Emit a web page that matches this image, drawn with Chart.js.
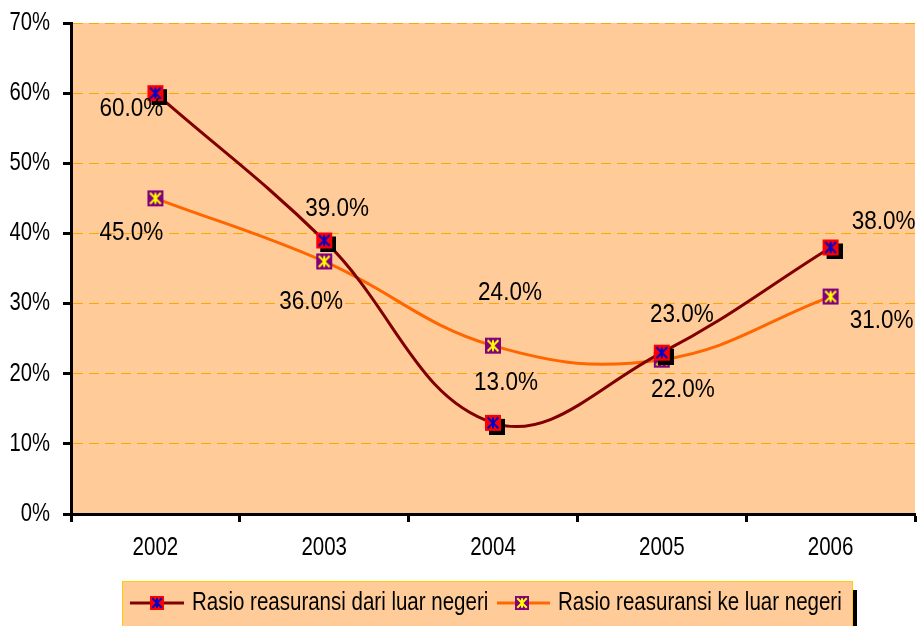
<!DOCTYPE html>
<html>
<head>
<meta charset="utf-8">
<script src="https://cdn.jsdelivr.net/npm/chart.js"></script>
<style>
  html, body { margin: 0; padding: 0; background: #fff; }
  #wrap { width: 919px; height: 626px; }
</style>
</head>
<body>
<div id="wrap"><canvas id="myChart" width="919" height="626"></canvas></div>
<script>
const years = ['2002', '2003', '2004', '2005', '2006']
const dariLuar = [60, 39, 13, 23, 38]
const keLuar = [45, 36, 24, 22, 31]
const yTicks = [0, 10, 20, 30, 40, 50, 60, 70]
const seriesNames = ['Rasio reasuransi dari luar negeri', 'Rasio reasuransi ke luar negeri']

// label offsets from the point (Excel put them by hand)
const offDari = [[-24, 16], [13, -31], [13, -40], [20, -38], [53, -25]]
const offKe = [[-24, 35], [-13, 41], [17, -53], [21, 30], [51, 25]]

// no narrow font installed, so text is squeezed by hand
const FONT = '25px "Liberation Sans", Arial, sans-serif'

function narrowText(ctx, txt, x, y, align, sq){
  ctx.save()
  ctx.translate(x, y)
  ctx.scale(sq, 1)
  ctx.textAlign = align
  ctx.fillText(txt, 0, 0)
  ctx.restore()
}

function marker(fill, star, shadow, size){
  const c = document.createElement('canvas')
  const s = size + 8
  c.width = s; c.height = s
  const ctx = c.getContext('2d')
  const o = (s - size) / 2
  if(shadow){
    ctx.fillStyle = '#000'
    ctx.fillRect(o + 4, o + 4, size, size)
  }
  ctx.fillStyle = fill
  ctx.fillRect(o, o, size, size)
  ctx.strokeStyle = star
  ctx.lineWidth = 2
  const m = s / 2, r = size * 0.34
  ctx.beginPath()
  ctx.moveTo(m, m - r); ctx.lineTo(m, m + r)
  ctx.moveTo(m - r, m - r); ctx.lineTo(m + r, m + r)
  ctx.moveTo(m + r, m - r); ctx.lineTo(m - r, m + r)
  ctx.stroke()
  return c
}

const mkDari = marker('#FF0000', '#0000CC', true, 16)
const mkKe = marker('#800080', '#FFFF00', false, 16)
const mkDariLeg = marker('#FF0000', '#0000CC', false, 14)
const mkKeLeg = marker('#800080', '#FFFF00', false, 14)

const bgPlugin = {
  id: 'bg',
  beforeDraw(chart){
    const {ctx, chartArea: a} = chart
    ctx.save()
    ctx.fillStyle = '#FFCC99'
    ctx.fillRect(a.left, a.top, a.right - a.left, a.bottom - a.top)
    ctx.restore()
  }
}

// axis labels, placed from the scales
const tickPlugin = {
  id: 'tickLabels',
  afterDraw(chart){
    const ctx = chart.ctx
    const xs = chart.scales.x, ys = chart.scales.y
    ctx.save()
    ctx.font = FONT
    ctx.fillStyle = '#000'
    ctx.textBaseline = 'middle'
    ys.ticks.forEach((t, i) => {
      narrowText(ctx, t.value + '%', ys.right - 21, ys.getPixelForTick(i), 'right', 0.81)
    })
    xs.ticks.forEach((t, i) => {
      narrowText(ctx, years[i], xs.getPixelForTick(i), xs.top + 34, 'center', 0.82)
    })
    ctx.restore()
  }
}

const labelPlugin = {
  id: 'labels',
  afterDatasetsDraw(chart){
    const ctx = chart.ctx
    ctx.save()
    ctx.font = FONT
    ctx.fillStyle = '#000'
    ctx.textBaseline = 'middle'
    const offs = [offDari, offKe]
    chart.data.datasets.forEach((ds, i) => {
      chart.getDatasetMeta(i).data.forEach((pt, j) => {
        narrowText(ctx, ds.data[j].toFixed(1) + '%', pt.x + offs[i][j][0], pt.y + offs[i][j][1], 'center', 0.9)
      })
    })
    ctx.restore()
  }
}

const legendPlugin = {
  id: 'boxLegend',
  afterDraw(chart){
    const ctx = chart.ctx
    ctx.save()
    const x = 122, y = 581, w = 730, h = 50
    ctx.fillStyle = '#000'
    ctx.fillRect(x + w, y + 9, 5, h)
    ctx.fillStyle = '#FFCC99'
    ctx.fillRect(x, y, w, h)
    ctx.strokeStyle = '#FFCC00'
    ctx.lineWidth = 1
    ctx.strokeRect(x + 0.5, y + 0.5, w, h)
    const cy = 603
    const items = [
      {x0: 130, x1: 184, mx: 157, tx: 192, color: '#800000', mk: mkDariLeg},
      {x0: 497, x1: 550, mx: 522, tx: 558, color: '#FF6600', mk: mkKeLeg}
    ]
    ctx.font = FONT
    ctx.textBaseline = 'middle'
    items.forEach((it, i) => {
      ctx.strokeStyle = it.color
      ctx.lineWidth = 3
      ctx.beginPath()
      ctx.moveTo(it.x0, cy); ctx.lineTo(it.x1, cy)
      ctx.stroke()
      ctx.drawImage(it.mk, it.mx - it.mk.width / 2, cy - it.mk.height / 2)
      ctx.fillStyle = '#000'
      narrowText(ctx, seriesNames[i], it.tx, cy, 'left', 0.82)
    })
    ctx.restore()
  }
}

new Chart('myChart', {
  type: 'line',
  data: {
    labels: years,
    datasets: [
      {
        label: seriesNames[0],
        data: dariLuar,
        borderColor: '#800000',
        borderWidth: 3,
        tension: 0.4,
        pointStyle: mkDari,
        pointRadius: 8
      },
      {
        label: seriesNames[1],
        data: keLuar,
        borderColor: '#FF6600',
        borderWidth: 3,
        tension: 0.4,
        pointStyle: mkKe,
        pointRadius: 8
      }
    ]
  },
  plugins: [bgPlugin, labelPlugin, tickPlugin, legendPlugin],
  options: {
    responsive: false,
    animation: false,
    layout: { autoPadding: false, padding: { top: 23, right: 4, left: 0, bottom: 0 } },
    plugins: {
      legend: { display: false },
      tooltip: { enabled: false }
    },
    scales: {
      x: {
        offset: true,
        grid: {
          offset: true,
          drawOnChartArea: false,
          tickLength: 8,
          tickColor: '#000',
          tickWidth: 3
        },
        border: { color: '#000', width: 3 },
        ticks: { display: false },
        afterFit(scale){ scale.height = 112 }
      },
      y: {
        min: 0,
        max: 70,
        afterBuildTicks(scale){ scale.ticks = yTicks.map(v => ({value: v})) },
        grid: {
          color: ctx => ctx.tick && ctx.tick.value === 0 ? 'rgba(0,0,0,0)' : '#FFA500',
          lineWidth: 1,
          tickLength: 8,
          tickColor: '#000',
          tickWidth: 3
        },
        border: { color: '#000', width: 3, dash: [10, 6] },
        ticks: { display: false },
        afterFit(scale){ scale.width = 71 }
      }
    }
  }
})
</script>
</body>
</html>
